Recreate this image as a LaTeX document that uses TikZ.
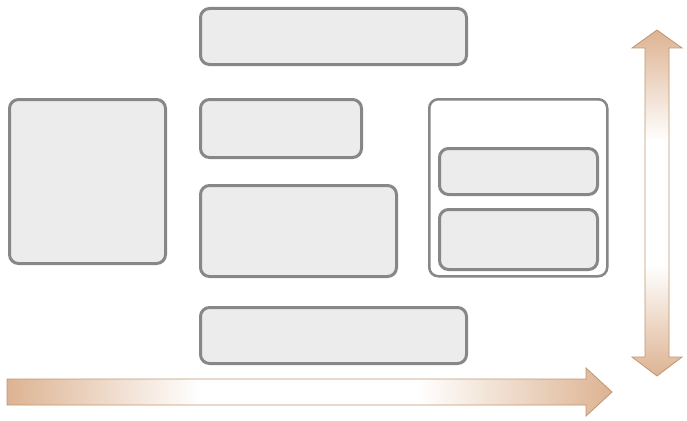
\documentclass[tikz,border=0pt]{standalone}
\usetikzlibrary{positioning}

\definecolor{boxfill}{HTML}{ECECEC}
\definecolor{boxline}{HTML}{878787}
\definecolor{tan}{HTML}{DDB392}
\definecolor{tanline}{HTML}{BF9670}

% tan at both ends, white in the middle
\pgfdeclarehorizontalshading{tanfade}{100bp}{color(0bp)=(tan); color(25bp)=(tan);
  color(41bp)=(white); color(59bp)=(white); color(75bp)=(tan); color(100bp)=(tan)}

\begin{document}
\begin{tikzpicture}[
    x=1pt, y=-1pt,
    box/.style={draw=boxline, line width=3pt, rounded corners=9pt, fill=boxfill,
      anchor=north west, inner sep=0pt},
    frame/.style={box, fill=white, line width=2.5pt},
    axisarrow/.style={draw=tanline, line width=0.8pt, shading=tanfade}
  ]
    \useasboundingbox (0,0) rectangle (687,420);

    \node[box, minimum width=266, minimum height=56]  (top)    at (199,7)   {};
    \node[box, minimum width=156, minimum height=164] (left)   at (8,98)    {};
    \node[box, minimum width=161, minimum height=58]  (small)  at (199,98)  {};
    \node[box, minimum width=196, minimum height=91]  (middle) at (199,184) {};
    \node[box, minimum width=266, minimum height=56]  (bottom) at (199,306) {};

    \node[frame, minimum width=178, minimum height=177] (group) at (428,98) {};
    \node[box, minimum width=158, minimum height=46] (inner1) at (438,147) {};
    \node[box, minimum width=158, minimum height=60, below=12pt of inner1.south west, anchor=north west] (inner2) {};

    % axes
    \path[axisarrow] (7,379) -- (586,379) -- (586,368) -- (612,392) -- (586,416)
      -- (586,405) -- (7,405) -- cycle;
    \path[axisarrow, shading angle=90] (657,30) -- (682,48) -- (669,48) -- (669,357)
      -- (682,357) -- (657,376) -- (632,357) -- (645,357) -- (645,48) -- (632,48) -- cycle;
\end{tikzpicture}
\end{document}
